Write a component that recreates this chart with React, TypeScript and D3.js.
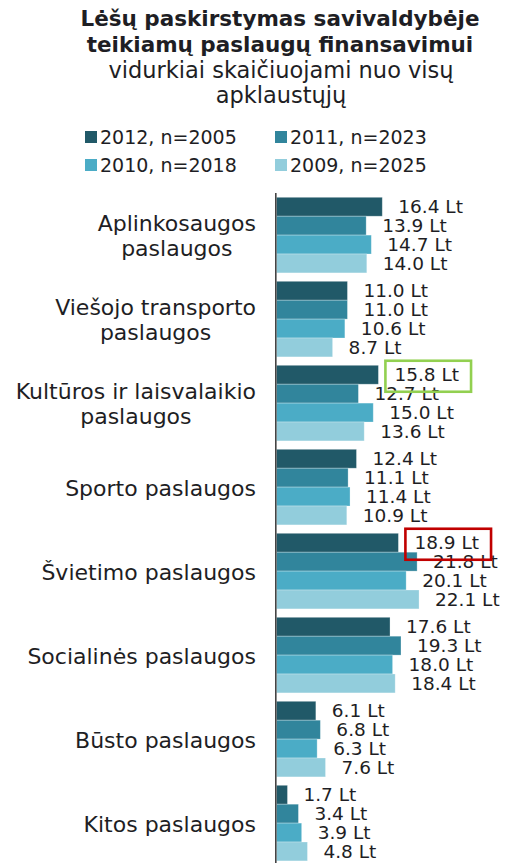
import { useEffect, useRef } from 'react'
import * as d3 from 'd3'

const categories = [
  'Aplinkosaugos\npaslaugos',
  'Viešojo transporto\npaslaugos',
  'Kultūros ir laisvalaikio\npaslaugos',
  'Sporto paslaugos',
  'Švietimo paslaugos',
  'Socialinės paslaugos',
  'Būsto paslaugos',
  'Kitos paslaugos',
]
const seriesNames = ['2012, n=2005', '2011, n=2023', '2010, n=2018', '2009, n=2025']
const values2012 = [16.4, 11.0, 15.8, 12.4, 18.9, 17.6, 6.1, 1.7]
const values2011 = [13.9, 11.0, 12.7, 11.1, 21.8, 19.3, 6.8, 3.4]
const values2010 = [14.7, 10.6, 15.0, 11.4, 20.1, 18.0, 6.3, 3.9]
const values2009 = [14.0, 8.7, 13.6, 10.9, 22.1, 18.4, 7.6, 4.8]
const seriesValues = [values2012, values2011, values2010, values2009]
const titleLines = ['Lėšų paskirstymas savivaldybėje', 'teikiamų paslaugų finansavimui']
const subtitleLines = ['vidurkiai skaičiuojami nuo visų', 'apklaustųjų']
// labels framed in the original: [category index, series index]
const highlighted = [
  [2, 0],
  [4, 0],
]

const colors = ['#215968', '#31859c', '#4bacc6', '#92cddc']
const boxColors = ['#92d050', '#c00000']
const font = '"DejaVu Sans", Verdana, sans-serif'
const ink = '#1e1e24'

export default function App() {
  const svgRef = useRef<SVGSVGElement>(null)

  useEffect(() => {
    const w = 516
    const h = 863
    const svg = d3.select(svgRef.current).attr('width', w).attr('height', h)
    svg.selectAll('*').remove()

    // title
    const title = svg.append('g').attr('font-family', font).attr('fill', ink).attr('text-anchor', 'middle')
    titleLines.forEach((t, i) =>
      title.append('text').attr('x', 280).attr('y', 26 + i * 26)
        .attr('font-size', 21.5).attr('font-weight', 'bold').text(t))
    subtitleLines.forEach((t, i) =>
      title.append('text').attr('x', 281).attr('y', 78 + i * 25)
        .attr('font-size', 22.5).text(t))

    // legend
    const legend = svg.append('g').attr('font-family', font).attr('font-size', 19).attr('fill', ink)
    seriesNames.forEach((name, i) => {
      const lx = i % 2 === 0 ? 85 : 275
      const ly = 144 + Math.floor(i / 2) * 28
      legend.append('rect').attr('x', lx).attr('y', ly - 13).attr('width', 12).attr('height', 12)
        .attr('fill', colors[i])
      legend.append('text').attr('x', lx + 15).attr('y', ly).text(name)
    })

    //scales
    const x0 = 276.5
    const xScale = d3.scaleLinear().domain([0, 30]).range([x0, x0 + 6.45 * 30])
    const yScale = d3.scaleBand<string>()
      .domain(categories)
      .range([193.1, 193.1 + 8 * 84])
      .paddingInner(0.1)
      .paddingOuter(0.05)
    const ySub = d3.scaleBand<number>()
      .domain(d3.range(seriesNames.length))
      .range([0, yScale.bandwidth()])

    // bars
    const groups = svg.append('g').selectAll('g')
      .data(categories)
      .join('g')
      .attr('transform', d => `translate(0, ${yScale(d)})`)

    groups.selectAll('rect')
      .data((d, ci) => seriesValues.map((vals, si) => ({ si, v: vals[ci] })))
      .join('rect')
      .attr('x', xScale(0))
      .attr('y', d => ySub(d.si)!)
      .attr('width', d => xScale(d.v) - xScale(0))
      .attr('height', ySub.bandwidth())
      .attr('fill', d => colors[d.si])
      .attr('stroke', 'rgba(255,255,255,0.35)')
      .attr('stroke-width', 0.8)

    // axis line
    svg.append('line')
      .attr('x1', 275.8).attr('x2', 275.8)
      .attr('y1', 193).attr('y2', h)
      .attr('stroke', '#444').attr('stroke-width', 1.6)

    // value labels
    const fmt = d3.format('.1f')
    const labels: SVGTextElement[][] = categories.map(() => [])
    groups.each(function (d, ci) {
      const g = d3.select(this)
      seriesValues.forEach((vals, si) => {
        const t = g.append('text')
          .attr('x', xScale(vals[ci]) + 16)
          .attr('y', ySub(si)! + ySub.bandwidth() / 2 + 6.5)
          .attr('font-family', font)
          .attr('font-size', 18.5)
          .attr('fill', ink)
          .text(`${fmt(vals[ci])} Lt`)
        labels[ci][si] = t.node()!
      })
    })

    // framed labels
    highlighted.forEach(([ci, si], k) => {
      const b = labels[ci][si].getBBox()
      const cy = yScale(categories[ci])! + ySub(si)! + ySub.bandwidth() / 2 + 1.5
      svg.append('rect')
        .attr('x', b.x - 9)
        .attr('y', cy - 15.5)
        .attr('width', b.width + 21)
        .attr('height', 31)
        .attr('fill', 'none')
        .attr('stroke', boxColors[k])
        .attr('stroke-width', 2.6)
    })

    // category labels: lines centred, block right-aligned at the axis
    const cats = svg.append('g').attr('font-family', font).attr('font-size', 22).attr('fill', ink)
    categories.forEach(c => {
      const lines = c.split('\n')
      const cy = yScale(c)! + yScale.bandwidth() / 2
      const nodes = lines.map((line, i) =>
        cats.append('text')
          .attr('y', cy + 8.8 - (lines.length - 1) * 12.5 + i * 25)
          .attr('text-anchor', 'middle')
          .text(line))
      const maxW = d3.max(nodes, n => n.node()!.getComputedTextLength())!
      nodes.forEach(n => n.attr('x', 256 - maxW / 2))
    })
  }, [])

  return (
    <div style={{ position: 'absolute', left: 0, top: 0, background: '#fff' }}>
      <svg ref={svgRef} style={{ display: 'block' }}></svg>
    </div>
  )
}
